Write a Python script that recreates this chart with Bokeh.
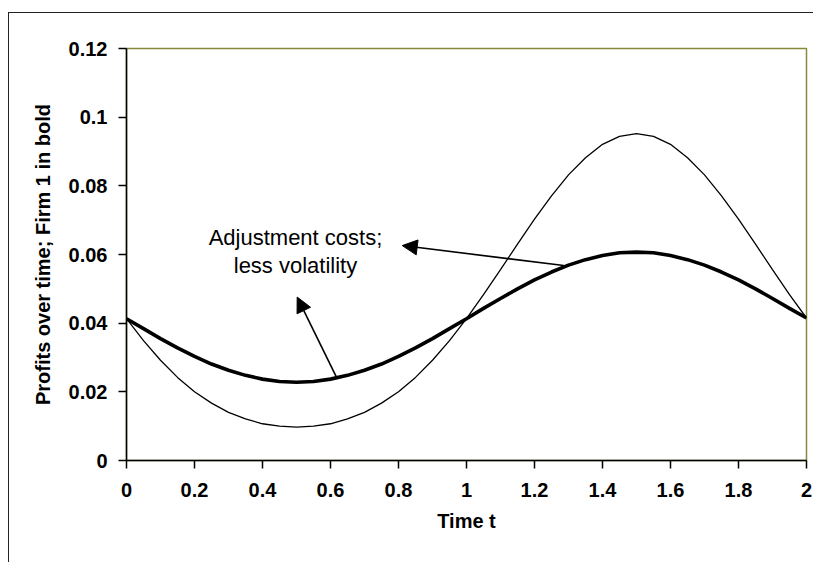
from bokeh.plotting import figure
from bokeh.models import Range1d, FixedTicker, Arrow, NormalHead, Label, InlineStyleSheet
from bokeh.embed import file_html
from bokeh.resources import INLINE

# ---- data ----
time_t = [0.00, 0.05, 0.10, 0.15, 0.20, 0.25, 0.30, 0.35, 0.40, 0.45,
          0.50, 0.55, 0.60, 0.65, 0.70, 0.75, 0.80, 0.85, 0.90, 0.95,
          1.00, 1.05, 1.10, 1.15, 1.20, 1.25, 1.30, 1.35, 1.40, 1.45,
          1.50, 1.55, 1.60, 1.65, 1.70, 1.75, 1.80, 1.85, 1.90, 1.95, 2.00]

profit_firm2 = [0.0413, 0.0349, 0.0292, 0.0242, 0.0200, 0.0167, 0.0140, 0.0121, 0.0107, 0.0100,
                0.0097, 0.0100, 0.0107, 0.0121, 0.0140, 0.0167, 0.0200, 0.0242, 0.0292, 0.0349,
                0.0413, 0.0483, 0.0556, 0.0630, 0.0703, 0.0771, 0.0832, 0.0882, 0.0921, 0.0944,
                0.0952, 0.0944, 0.0921, 0.0882, 0.0832, 0.0771, 0.0703, 0.0630, 0.0556, 0.0483, 0.0415]

profit_firm1 = [0.0413, 0.0384, 0.0355, 0.0328, 0.0303, 0.0281, 0.0263, 0.0248, 0.0237, 0.0230,
                0.0228, 0.0230, 0.0237, 0.0248, 0.0263, 0.0281, 0.0303, 0.0328, 0.0355, 0.0384,
                0.0413, 0.0443, 0.0472, 0.0500, 0.0526, 0.0549, 0.0569, 0.0585, 0.0597, 0.0605,
                0.0607, 0.0605, 0.0597, 0.0585, 0.0569, 0.0549, 0.0526, 0.0500, 0.0472, 0.0443, 0.0415]

x_ticks = [0, 0.2, 0.4, 0.6, 0.8, 1, 1.2, 1.4, 1.6, 1.8, 2]
x_tick_labels = ["0", "0.2", "0.4", "0.6", "0.8", "1", "1.2", "1.4", "1.6", "1.8", "2"]
y_ticks = [0, 0.02, 0.04, 0.06, 0.08, 0.1, 0.12]
y_tick_labels = ["0", "0.02", "0.04", "0.06", "0.08", "0.1", "0.12"]

annotation_lines = ["Adjustment costs;", "less volatility"]

FONT = "Liberation Sans"

# outer chart-area frame: only its left and top edges fall inside the window
frame_css = InlineStyleSheet(css="""
:host { position: relative; }
:host::after {
  content: "";
  position: absolute;
  left: 8px; top: 12px; right: 0px; bottom: 0px;
  border-left: 1px solid #222;
  border-top: 1px solid #222;
  pointer-events: none;
  z-index: 10;
}
""")

p = figure(width=813, height=562, output_backend="svg", toolbar_location=None,
           x_range=Range1d(0, 2), y_range=Range1d(0, 0.12),
           min_border_left=126, min_border_top=48, min_border_right=7, min_border_bottom=102)
p.stylesheets = [frame_css]

p.background_fill_color = "white"
p.border_fill_color = "white"
p.outline_line_color = "#88883a"
p.outline_line_width = 1.5
p.xgrid.visible = False
p.ygrid.visible = False

for ax, ticks, labels in ((p.xaxis[0], x_ticks, x_tick_labels), (p.yaxis[0], y_ticks, y_tick_labels)):
    ax.ticker = FixedTicker(ticks=ticks)
    ax.major_label_overrides = {float(t): l for t, l in zip(ticks, labels)}
    ax.minor_tick_line_color = None
    ax.major_tick_in = 0
    ax.major_tick_out = 8
    ax.major_tick_line_width = 1.5
    ax.major_tick_line_color = "black"
    ax.axis_line_color = "black"
    ax.axis_line_width = 1.5
    ax.major_label_text_font = FONT
    ax.major_label_text_font_style = "bold"
    ax.major_label_text_font_size = "20px"
    ax.major_label_text_color = "black"
    ax.axis_label_text_font = FONT
    ax.axis_label_text_font_style = "bold"
    ax.axis_label_text_font_size = "20px"
    ax.axis_label_text_color = "black"

p.xaxis.axis_label = "Time t"
p.yaxis.axis_label = "Profits over time; Firm 1 in bold"
p.xaxis.major_label_standoff = 14
p.xaxis.axis_label_standoff = 10
p.yaxis.major_label_standoff = 11
p.yaxis.axis_label_standoff = 12

p.line(time_t, profit_firm2, line_color="black", line_width=1.3)
p.line(time_t, profit_firm1, line_color="black", line_width=3.6)

p.add_layout(Arrow(end=NormalHead(size=15, fill_color="black", line_color="black"),
                   x_start=1.286, y_start=0.0568, x_end=0.811, y_end=0.0626,
                   line_color="black", line_width=1.6))
p.add_layout(Arrow(end=NormalHead(size=15, fill_color="black", line_color="black"),
                   x_start=0.620, y_start=0.0238, x_end=0.502, y_end=0.0476,
                   line_color="black", line_width=1.6))

for txt, yv in zip(annotation_lines, [0.0650, 0.0568]):
    p.add_layout(Label(x=0.497, y=yv, text=txt, text_font=FONT, text_font_size="22px",
                       text_align="center", text_baseline="alphabetic", text_color="black"))

open("out.html", "w").write(file_html(p, INLINE))
